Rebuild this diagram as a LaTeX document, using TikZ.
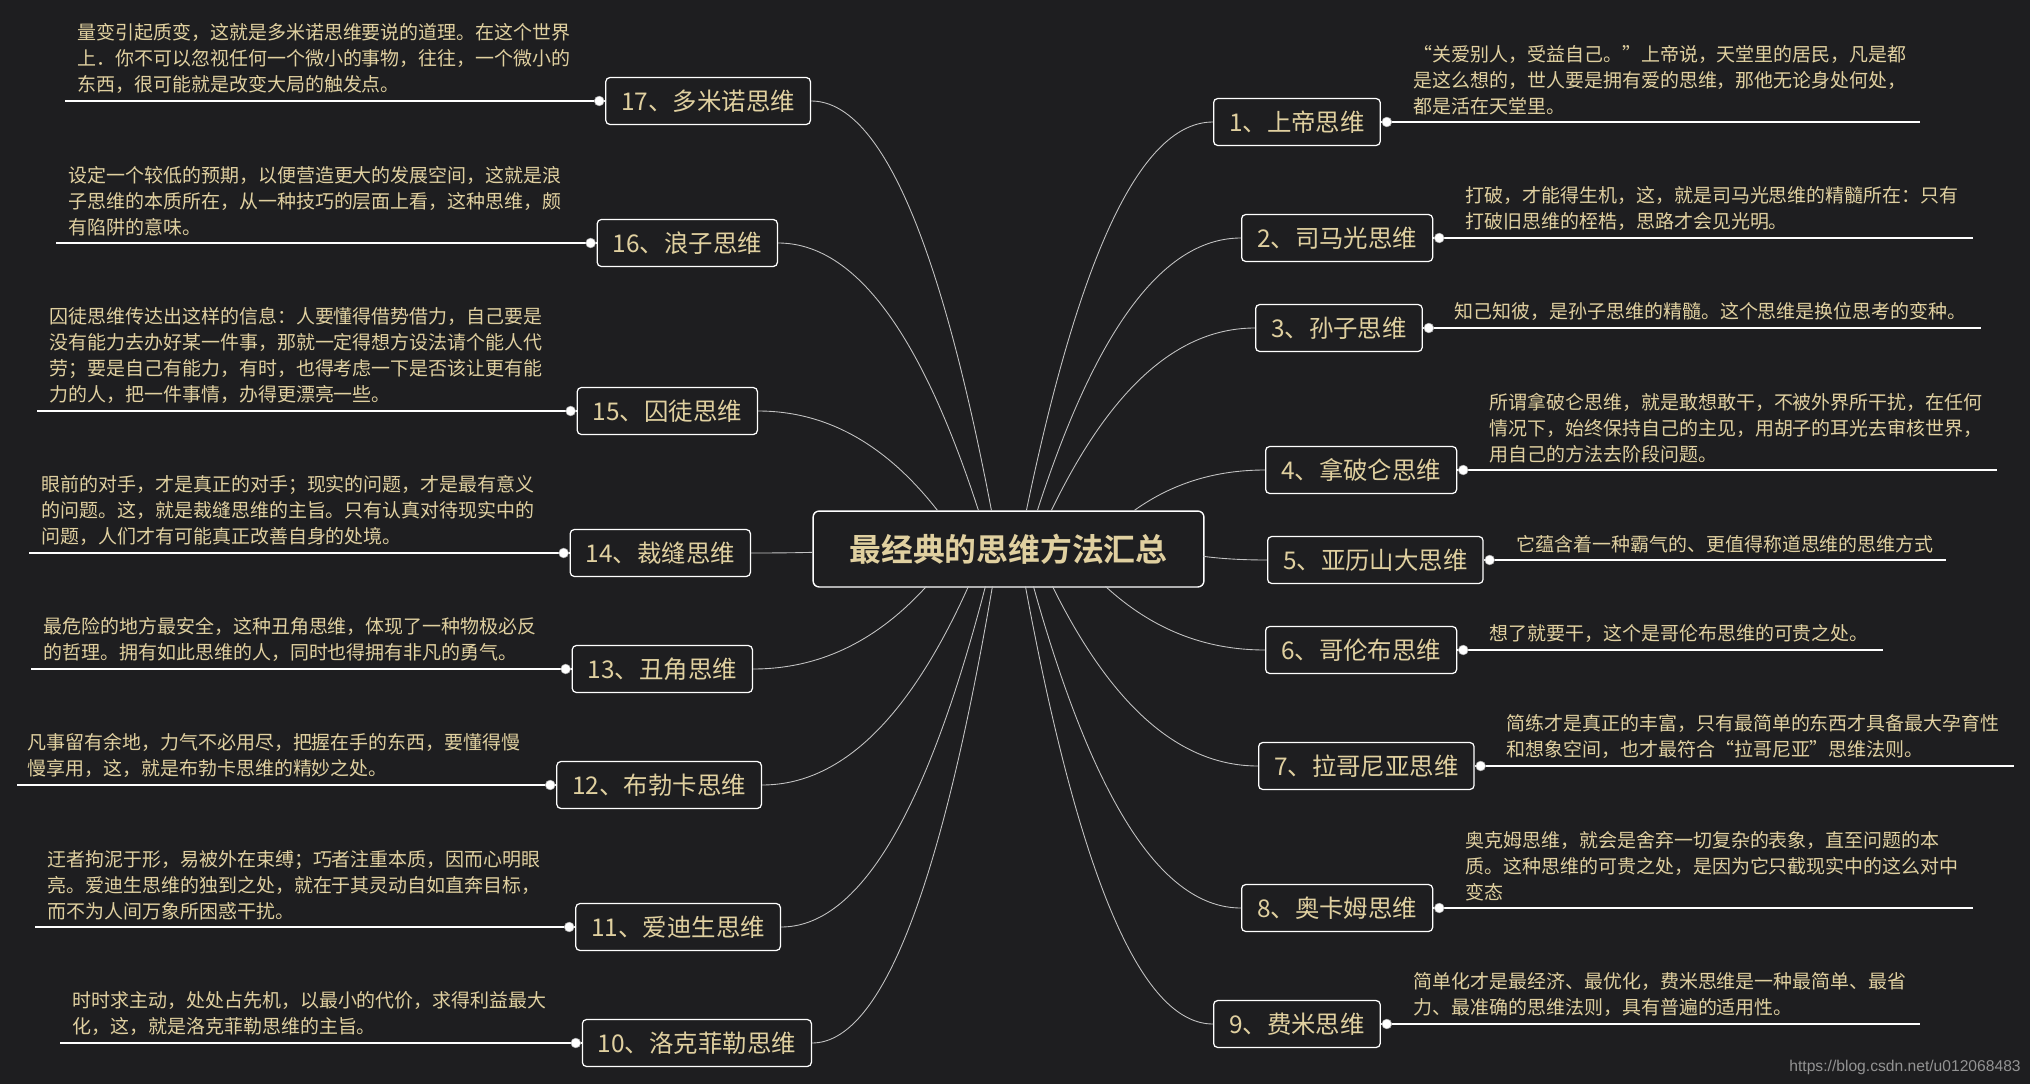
\documentclass[tikz,border=0pt]{standalone}
\usepackage{fontspec}
\setmainfont{Noto Sans CJK SC}
\newfontfamily\hubfont{Noto Sans CJK SC Bold}
\newfontfamily\urlfont{Liberation Sans}
\usetikzlibrary{calc}

\definecolor{bgdark}{RGB}{30,30,32}
\definecolor{ink}{RGB}{224,208,160}
\definecolor{wire}{RGB}{195,195,195}

\tikzset{
    hubbox/.style={draw=white, line width=0.8pt, rounded corners=3.4pt, fill=bgdark,
        text=ink, font=\hubfont\fontsize{18.1}{22}\selectfont,
        inner xsep=20.7pt, minimum height=43.2pt},
    topic/.style={draw=white, line width=0.7pt, rounded corners=2.3pt, fill=bgdark,
        text=ink, font=\fontsize{13.9}{16}\selectfont,
        inner xsep=8.8pt, minimum height=26.7pt},
    note/.style={text=ink, font=\fontsize{10.8}{14.8}\selectfont, align=left,
        inner sep=0pt, anchor=south west},
    rule/.style={draw=white, line width=0.7pt},
    knob/.style={circle, fill=white, draw=gray!70, line width=0.3pt,
        inner sep=0pt, minimum size=5.6pt},
    link/.style={draw=wire, line width=0.5pt,
        to path={let \p1=(\tikztostart), \p2=(\tikztotarget) in
            .. controls ({\x1+0.29*(\x2-\x1)},{\y1+0.67*(\y2-\y1)})
            and ({\x2+0.38*(\x1-\x2)},\y2) .. (\tikztotarget)}}
}

\begin{document}
\begin{tikzpicture}[x=0.02cm, y=-0.02cm]
    \useasboundingbox (0,0) rectangle (2030,1084);
    \fill[bgdark] (0,0) rectangle (2030,1084);

    \node[hubbox] (hub) at (1008.5,549) {最经典的思维方法汇总};

    % left side: number/name/y/box edge/hub offset x/hub offset y/line start
    \foreach \i/\name/\yy/\xe/\hx/\hy/\xl in {
        17/多米诺/101/811/179/0/65, 16/浪子/243/778/166/0/56,
        15/囚徒/411/758/125/0/37, 14/裁缝/553/751/0/42/29,
        13/丑角/669/753/114/76/31, 12/布勃卡/785/762/156/76/17,
        11/爱迪生/927/781/173/76/35, 10/洛克菲勒/1043/812/180/76/60} {
        \node[topic, anchor=east] (t\i) at (\xe,\yy) {{\i}、{\name}思维};
        \coordinate (h\i) at ($(hub.north west)+(\hx,\hy)$);
        \coordinate (e\i) at (\xl,\yy);
        \draw[link] (h\i) to (t\i.east);
        \draw[rule] (e\i) -- (t\i.west);
        \node[knob] (k\i) at ($(t\i.west)+(-6,0)$) {};
    }

    % right side
    \foreach \i/\name/\yy/\xe/\hx/\hy/\xl in {
        1/上帝/122/1213/214/0/1920, 2/司马光/238/1241/225/0/1973,
        3/孙子/328/1255/239/0/1981, 4/拿破仑/470/1265/322/0/1997,
        5/亚历山大/560/1267/391/46/1946, 6/哥伦布/650/1265/293/76/1883,
        7/拉哥尼亚/766/1258/240/76/2014, 8/奥卡姆/908/1241/221/76/1973,
        9/费米/1024/1213/213/76/1920} {
        \node[topic, anchor=west] (t\i) at (\xe,\yy) {{\i}、{\name}思维};
        \coordinate (h\i) at ($(hub.north west)+(\hx,\hy)$);
        \coordinate (e\i) at (\xl,\yy);
        \draw[link] (h\i) to (t\i.west);
        \draw[rule] (t\i.east) -- (e\i);
        \node[knob] (k\i) at ($(t\i.east)+(6,0)$) {};
    }

    % notes
    \node[note] (d17) at (77,94) {量变引起质变，这就是多米诺思维要说的道理。在这个世界\\上．你不可以忽视任何一个微小的事物，往往，一个微小的\\东西，很可能就是改变大局的触发点。};
    \node[note] (d16) at (68,236) {设定一个较低的预期，以便营造更大的发展空间，这就是浪\\子思维的本质所在，从一种技巧的层面上看，这种思维，颇\\有陷阱的意味。};
    \node[note] (d15) at (49,404) {囚徒思维传达出这样的信息：人要懂得借势借力，自己要是\\没有能力去办好某一件事，那就一定得想方设法请个能人代\\劳；要是自己有能力，有时，也得考虑一下是否该让更有能\\力的人，把一件事情，办得更漂亮一些。};
    \node[note] (d14) at (41,546) {眼前的对手，才是真正的对手；现实的问题，才是最有意义\\的问题。这，就是裁缝思维的主旨。只有认真对待现实中的\\问题，人们才有可能真正改善自身的处境。};
    \node[note] (d13) at (43,662) {最危险的地方最安全，这种丑角思维，体现了一种物极必反\\的哲理。拥有如此思维的人，同时也得拥有非凡的勇气。};
    \node[note] (d12) at (27,778) {凡事留有余地，力气不必用尽，把握在手的东西，要懂得慢\\慢享用，这，就是布勃卡思维的精妙之处。};
    \node[note] (d11) at (47,920) {迂者拘泥于形，易被外在束缚；巧者注重本质，因而心明眼\\亮。爱迪生思维的独到之处，就在于其灵动自如直奔目标，\\而不为人间万象所困惑干扰。};
    \node[note] (d10) at (72,1036) {时时求主动，处处占先机，以最小的代价，求得利益最大\\化，这，就是洛克菲勒思维的主旨。};

    \node[note] (d1) at (1413,115) {“关爱别人，受益自己。”上帝说，天堂里的居民，凡是都\\是这么想的，世人要是拥有爱的思维，那他无论身处何处，\\都是活在天堂里。};
    \node[note] (d2) at (1465,231) {打破，才能得生机，这，就是司马光思维的精髓所在：只有\\打破旧思维的桎梏，思路才会见光明。};
    \node[note] (d3) at (1454,321) {知己知彼，是孙子思维的精髓。这个思维是换位思考的变种。};
    \node[note] (d4) at (1489,463) {所谓拿破仑思维，就是敢想敢干，不被外界所干扰，在任何\\情况下，始终保持自己的主见，用胡子的耳光去审核世界，\\用自己的方法去阶段问题。};
    \node[note] (d5) at (1516,553) {它蕴含着一种霸气的、更值得称道思维的思维方式};
    \node[note] (d6) at (1489,643) {想了就要干，这个是哥伦布思维的可贵之处。};
    \node[note] (d7) at (1506,759) {简练才是真正的丰富，只有最简单的东西才具备最大孕育性\\和想象空间，也才最符合“拉哥尼亚”思维法则。};
    \node[note] (d8) at (1465,901) {奥克姆思维，就会是舍弃一切复杂的表象，直至问题的本\\质。这种思维的可贵之处，是因为它只截现实中的这么对中\\变态};
    \node[note] (d9) at (1413,1017) {简单化才是最经济、最优化，费米思维是一种最简单、最省\\力、最准确的思维法则，具有普遍的适用性。};

    \node[anchor=south east, inner sep=0pt, text=gray!85, font=\urlfont\fontsize{8.9}{10}\selectfont]
        (mark) at (2021,1075) {https://blog.csdn.net/u012068483};
\end{tikzpicture}
\end{document}
